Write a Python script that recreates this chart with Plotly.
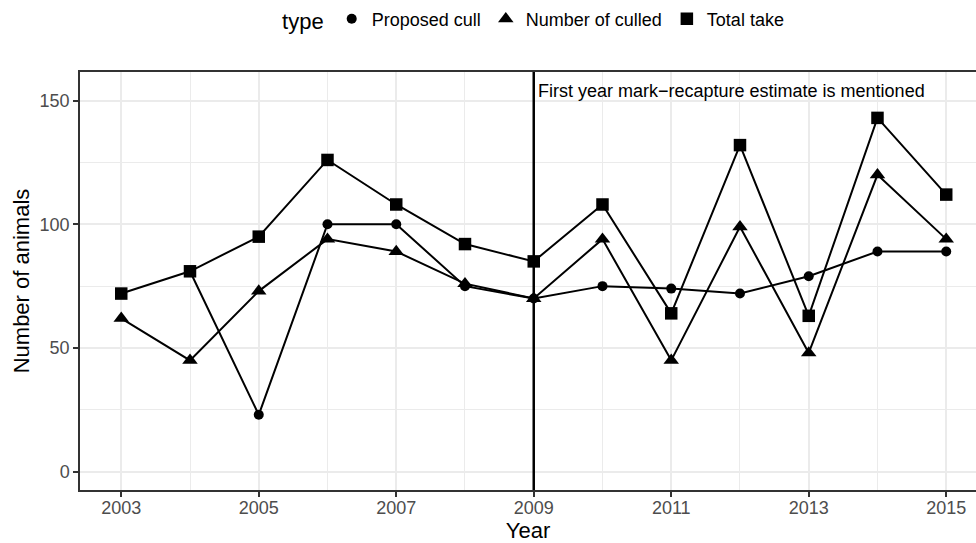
import plotly.graph_objects as go

years = [2003, 2004, 2005, 2006, 2007, 2008, 2009, 2010, 2011, 2012, 2013, 2014, 2015]
proposed_cull = [None, 81, 23, 100, 100, 75, 70, 75, 74, 72, 79, 89, 89]
number_culled = [62, 45, 73, 94, 89, 76, 70, 94, 45, 99, 48, 120, 94]
total_take = [72, 81, 95, 126, 108, 92, 85, 108, 64, 132, 63, 143, 112]

series_names = ["Proposed cull", "Number of culled", "Total take"]
series_values = [proposed_cull, number_culled, total_take]
series_symbols = ["circle", "triangle-up", "square"]
series_sizes = [10, 13.5, 12.5]

x_ticks = [2003, 2005, 2007, 2009, 2011, 2013, 2015]
y_ticks = [0, 50, 100, 150]
vline_year = 2009
annotation_text = "First year mark\u2212recapture estimate is mentioned"
annotation_y = 154

FONT = "Liberation Sans, Arial, Helvetica, sans-serif"

fig = go.Figure()

for name, vals, sym, sz in zip(series_names, series_values, series_symbols, series_sizes):
    fig.add_trace(go.Scatter(
        x=years, y=vals, mode="lines+markers", name=name,
        line=dict(color="black", width=2),
        marker=dict(symbol=sym, size=sz, color="black"),
        connectgaps=False, showlegend=False, cliponaxis=False,
    ))
    fig.add_trace(go.Scatter(
        x=[None], y=[None], mode="markers", name=name,
        marker=dict(symbol=sym, size=sz, color="black"),
        showlegend=True,
    ))

fig.add_vline(x=vline_year, line=dict(color="black", width=2.5), layer="above")

fig.add_annotation(
    x=vline_year, y=annotation_y, xref="x", yref="y",
    text=annotation_text, showarrow=False, xanchor="left", yanchor="middle",
    xshift=2, font=dict(family=FONT, size=18, color="black"),
)

fig.update_layout(
    width=976, height=543,
    margin=dict(l=80, r=0, t=72, b=53, autoexpand=False),
    paper_bgcolor="white", plot_bgcolor="white",
    font=dict(family=FONT, color="black"),
    legend=dict(
        orientation="h", xref="container", yref="container",
        x=0.287, xanchor="left", y=0.963, yanchor="middle",
        title=dict(text="type", side="left", font=dict(size=22, family=FONT)),
        font=dict(size=18, family=FONT), itemwidth=30,
        bgcolor="rgba(0,0,0,0)",
    ),
    xaxis=dict(
        range=[2002.4, 2015.433], automargin=False,
        tickmode="array", tickvals=x_ticks, ticktext=[str(v) for v in x_ticks],
        showgrid=True, gridcolor="#EBEBEB", gridwidth=2.2,
        minor=dict(dtick=1, tick0=2004, showgrid=True, gridcolor="#EBEBEB", gridwidth=1.1),
        showline=True, linecolor="#333333", linewidth=1.5, mirror=True,
        ticks="outside", ticklen=5, tickwidth=2, tickcolor="#333333",
        ticklabelstandoff=-4,
        tickfont=dict(size=18, color="#4D4D4D", family=FONT),
        title=dict(text="Year", font=dict(size=22, family=FONT), standoff=10),
        zeroline=False,
    ),
    yaxis=dict(
        range=[-7.4, 161.55], automargin=False,
        tickmode="array", tickvals=y_ticks, ticktext=[str(v) for v in y_ticks],
        showgrid=True, gridcolor="#EBEBEB", gridwidth=2.2,
        minor=dict(dtick=25, tick0=25, showgrid=True, gridcolor="#EBEBEB", gridwidth=1.1),
        showline=True, linecolor="#333333", linewidth=1.5, mirror=False,
        ticks="outside", ticklen=5, tickwidth=2, tickcolor="#333333",
        tickfont=dict(size=18, color="#4D4D4D", family=FONT),
        title=dict(text="Number of animals", font=dict(size=22, family=FONT), standoff=4),
        zeroline=False,
    ),
)

fig.write_html(
    "out.html",
    config={"displayModeBar": False},
    post_script="document.body.style.margin='0';document.body.style.overflow='hidden';",
)
